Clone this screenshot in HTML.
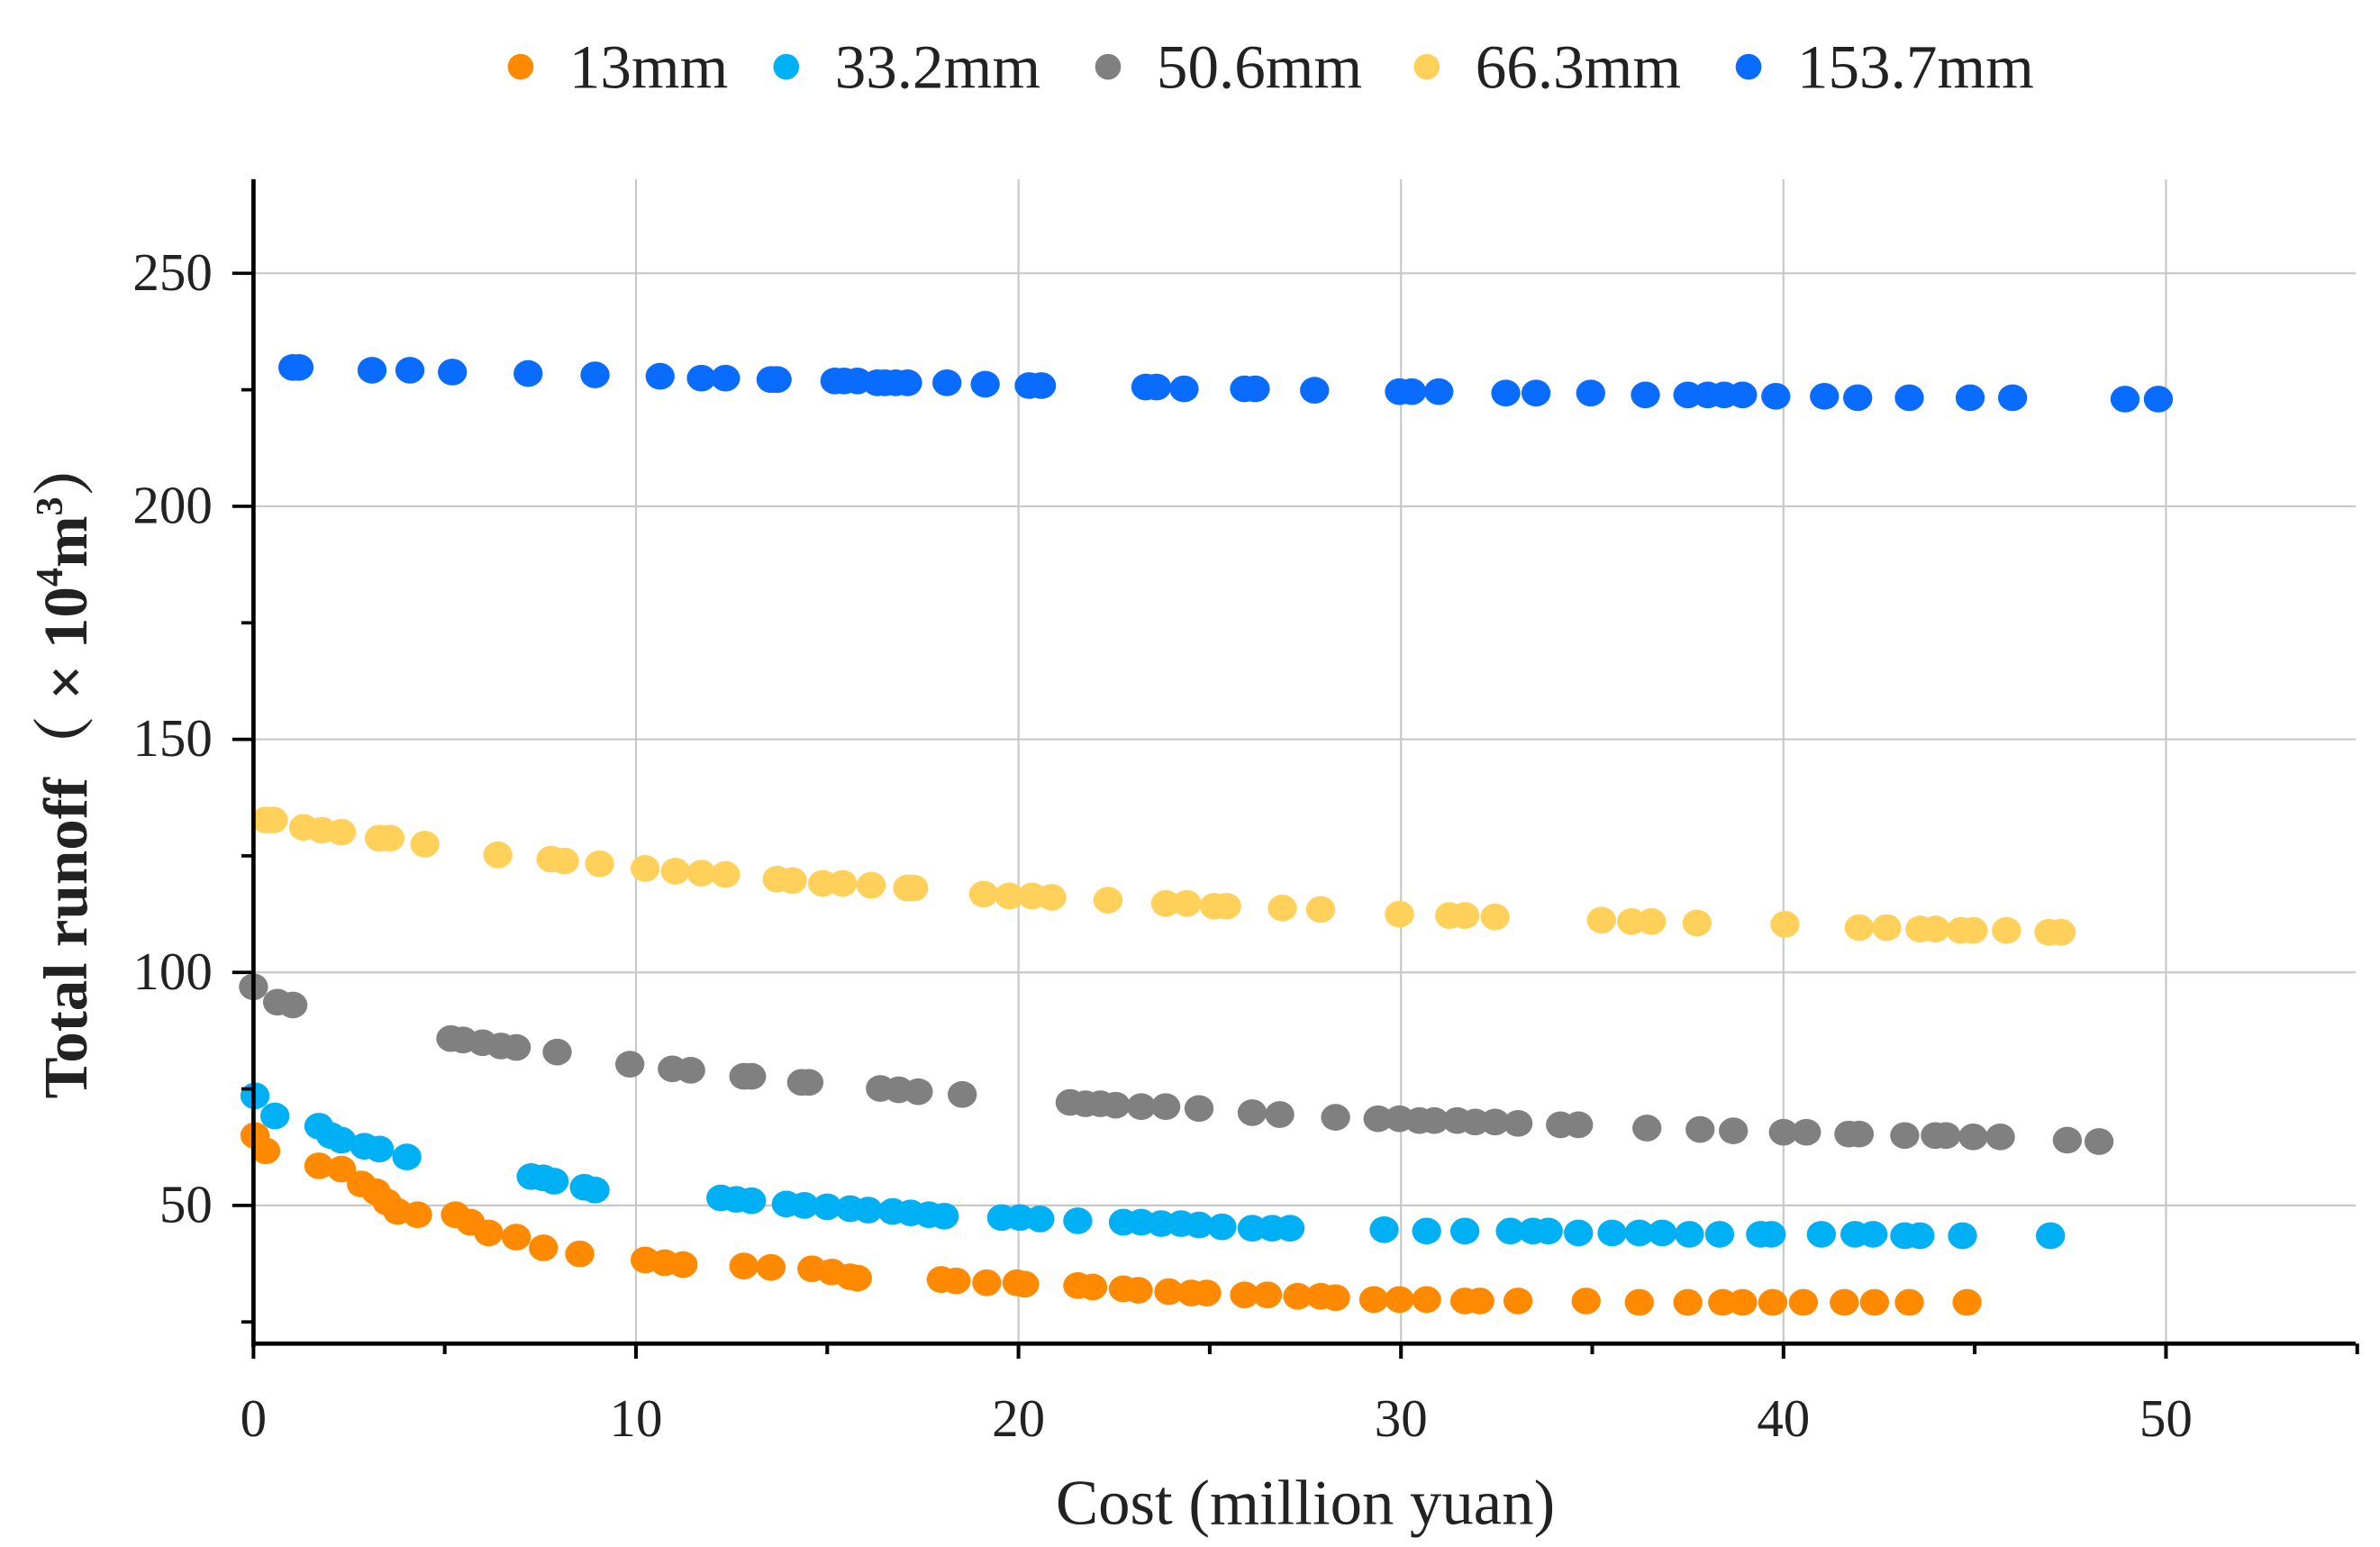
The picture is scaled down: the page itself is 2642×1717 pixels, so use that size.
<!DOCTYPE html>
<html><head><meta charset="utf-8"><style>
html,body{margin:0;padding:0;background:#fff}
svg{display:block}
text{font-family:"Liberation Serif","Noto Serif CJK SC",serif;fill:#222}
</style></head><body>
<svg id="chart" width="2642" height="1717" viewBox="0 0 1568 1019" preserveAspectRatio="none" xmlns="http://www.w3.org/2000/svg">
<g id="grid"></g>
<g id="series"></g>
<g id="axes"></g>
<g id="legend"></g>
<text x="860" y="1004" text-anchor="middle" font-size="42">Cost (million yuan)</text>
<text transform="translate(57,505) rotate(-90)" text-anchor="middle" font-size="41" font-weight="bold">Total runoff（ × 10<tspan font-size="25" dy="-16">4</tspan><tspan dy="16">m</tspan><tspan font-size="25" dy="-16">3</tspan><tspan dy="16">）</tspan></text>
</svg>
<script>
const seriesNames = ["13mm","33.2mm","50.6mm","66.3mm","153.7mm"];
const seriesColors = ["#ff8a00","#00b0f4","#808080","#ffd15a","#0a6cff"];
const xTicks = [0,10,20,30,40,50];
const yTicks = [50,100,150,200,250];

const x13 = [0.04,0.32,1.71,2.30,2.82,3.21,3.49,3.77,4.29,5.28,5.67,6.15,6.87,7.58,8.53,10.24,10.75,11.23,12.82,13.53,14.60,15.12,15.60,15.79,17.98,18.37,19.17,19.96,20.16,21.55,21.94,22.74,23.13,23.93,24.52,24.92,25.91,26.51,27.30,27.90,28.29,29.29,29.96,30.67,31.67,32.06,33.06,34.84,36.23,37.50,38.41,38.93,39.72,40.52,41.59,42.38,43.29,44.80];
const y13 = [65.0,61.7,58.5,57.8,54.6,52.9,50.7,48.7,48.0,48.0,46.4,44.1,43.2,40.9,39.6,38.3,37.7,37.3,37.0,36.7,36.4,35.7,34.7,34.4,34.1,33.8,33.4,33.4,33.1,32.8,32.5,32.1,31.8,31.5,31.2,31.2,30.8,30.8,30.5,30.5,30.2,29.8,29.8,29.8,29.5,29.5,29.5,29.5,29.2,29.2,29.2,29.2,29.2,29.2,29.2,29.2,29.2,29.2];

const x33 = [0.04,0.56,1.71,2.02,2.30,2.90,3.29,4.01,7.26,7.58,7.86,8.65,8.93,12.22,12.62,13.02,13.93,14.40,15.00,15.60,16.07,16.71,17.18,17.66,18.06,19.56,20.04,20.56,21.55,22.74,23.21,23.73,24.25,24.72,25.32,26.11,26.63,27.10,29.56,30.67,31.67,32.86,33.45,33.85,34.64,35.52,36.23,36.83,37.54,38.33,39.40,39.68,40.99,41.87,42.34,43.17,43.57,44.68,46.98];
const y33 = [73.5,69.2,67.0,65.0,64.0,62.7,62.1,60.4,56.2,55.9,55.2,53.9,53.3,51.6,51.3,51.0,50.3,50.0,49.7,49.3,49.0,48.7,48.4,48.0,47.7,47.4,47.4,47.1,46.7,46.4,46.4,46.1,46.1,45.8,45.4,45.1,45.1,45.1,44.8,44.5,44.5,44.5,44.5,44.5,44.1,44.1,44.1,44.1,43.8,43.8,43.8,43.8,43.8,43.8,43.8,43.5,43.5,43.5,43.5];

const x50 = [0,0.63,1.03,5.16,5.48,5.99,6.47,6.87,7.94,9.84,10.95,11.43,12.82,13.02,14.33,14.52,16.39,16.87,17.38,18.53,21.35,21.75,22.14,22.54,23.21,23.85,24.72,26.11,26.83,28.29,29.40,29.96,30.48,30.87,31.47,31.94,32.46,33.06,34.17,34.64,36.43,37.82,38.69,40.00,40.60,41.71,41.98,43.17,43.97,44.25,44.96,45.67,47.42,48.25];
const y50 = [96.9,93.6,93.0,85.8,85.5,84.9,84.2,83.9,82.9,80.3,79.3,79.0,77.7,77.7,76.4,76.4,75.1,74.8,74.4,73.8,72.1,71.8,71.8,71.5,71.2,71.2,70.8,69.9,69.5,68.9,68.6,68.6,68.2,68.2,68.2,67.9,67.9,67.6,67.3,67.3,66.6,66.3,66.0,65.7,65.7,65.3,65.3,65.0,65.0,65.0,64.7,64.7,64.0,63.7];

const x66 = [0.32,0.52,1.31,1.79,2.30,3.29,3.57,4.48,6.39,7.78,8.13,9.05,10.24,11.03,11.71,12.34,13.69,14.09,14.88,15.40,16.15,17.10,17.26,19.09,19.76,20.36,20.87,22.34,23.85,24.40,25.12,25.44,26.90,27.90,29.96,31.27,31.67,32.46,35.24,36.03,36.55,37.74,40.04,41.98,42.70,43.57,43.97,44.64,44.96,45.83,46.94,47.26];
const y66 = [132.7,132.7,131.1,130.5,130.1,128.8,128.8,127.5,125.2,124.3,123.9,123.3,122.3,121.7,121.3,121.0,120.0,119.7,119.1,119.1,118.7,118.1,118.1,116.8,116.4,116.4,116.1,115.5,114.8,114.8,114.2,114.2,113.8,113.5,112.5,112.2,112.2,111.9,111.2,110.9,110.9,110.6,110.3,109.6,109.6,109.3,109.3,109.0,109.0,109.0,108.6,108.6];

const x153 = [1.03,1.19,3.10,4.09,5.20,7.18,8.93,10.63,11.71,12.34,13.53,13.69,15.20,15.44,15.79,16.31,16.51,16.79,17.10,18.13,19.13,20.28,20.60,23.33,23.61,24.33,25.91,26.19,27.74,29.96,30.28,30.99,32.74,33.53,34.96,36.39,37.50,38.02,38.45,38.93,39.80,41.07,41.94,43.29,44.88,45.99,48.93,49.80];
const y153 = [229.8,229.8,229.2,229.2,228.8,228.5,228.2,227.9,227.5,227.5,227.2,227.2,226.9,226.9,226.9,226.5,226.5,226.5,226.5,226.5,226.2,225.9,225.9,225.6,225.6,225.2,225.2,225.2,224.9,224.6,224.6,224.6,224.3,224.3,224.3,223.9,223.9,223.9,223.9,223.9,223.6,223.6,223.3,223.3,223.3,223.3,223.0,223.0];

const NS="http://www.w3.org/2000/svg";
const X0=167, X50=1427, Y250=180, Y50=794, TOP=118, BOT=885, RIGHT=1552;
function sx(v){return X0+(X50-X0)*v/50;}
function sy(v){return Y50+(Y250-Y50)*(v-50)/200;}
function mk(tag,attrs,parent){const e=document.createElementNS(NS,tag);for(const k in attrs)e.setAttribute(k,attrs[k]);parent.appendChild(e);return e;}

const grid=document.getElementById('grid');
xTicks.forEach(t=>{if(t===0)return;
  const l=mk('line',{x1:sx(t),x2:sx(t),y1:TOP,y2:BOT,stroke:'#c8c8c8','stroke-width':1.3},grid);
  
  
});
yTicks.forEach(t=>{
  const l=mk('line',{x1:X0,x2:RIGHT,y1:sy(t),y2:sy(t),stroke:'#c8c8c8','stroke-width':1.3},grid);
  
  
});

const series=document.getElementById('series');
const xs=[x13,x33,x50,x66,x153], ys=[y13,y33,y50,y66,y153];
xs.forEach((xa,si)=>{
  const g=mk('g',{},series);
  
  
  xa.forEach((xv,i)=>{
    const c=mk('ellipse',{cx:sx(xv),cy:sy(ys[si][i]),rx:9.6,ry:8.8,fill:seriesColors[si]},g);
    
    
  });
});

const axes=document.getElementById('axes');
mk('line',{x1:X0,x2:X0,y1:TOP,y2:BOT+2,stroke:'#000','stroke-width':2.8},axes);
mk('line',{x1:X0,x2:RIGHT,y1:BOT,y2:BOT,stroke:'#000','stroke-width':2.8},axes);
for(let v=0;v<=55;v+=5){const major=v%10===0;
  mk('line',{x1:sx(v),x2:sx(v),y1:BOT,y2:BOT+(major?10:7),stroke:'#000','stroke-width':2.4},axes);}
for(let v=25;v<=250;v+=25){const major=v%50===0;
  mk('line',{x1:X0,x2:X0-(major?14:8),y1:sy(v),y2:sy(v),stroke:'#000','stroke-width':2.2},axes);}
xTicks.forEach(t=>{
  const tx=mk('text',{x:sx(t),y:946,'text-anchor':'middle','font-size':35},axes);
  tx.textContent=t;
  
  
});
yTicks.forEach(t=>{
  const tx=mk('text',{x:140,y:sy(t)+11,'text-anchor':'end','font-size':35},axes);
  tx.textContent=t;
  
  
});

const legend=document.getElementById('legend');
const lx=[343,518,730,940,1152];
seriesNames.forEach((n,i)=>{
  const g=mk('g',{},legend);
  
  
  mk('circle',{cx:lx[i],cy:44,r:8.5,fill:seriesColors[i]},g);
  const t=mk('text',{x:lx[i]+32,y:58,'font-size':41},g);
  t.textContent=n;
});
</script>
</body></html>
